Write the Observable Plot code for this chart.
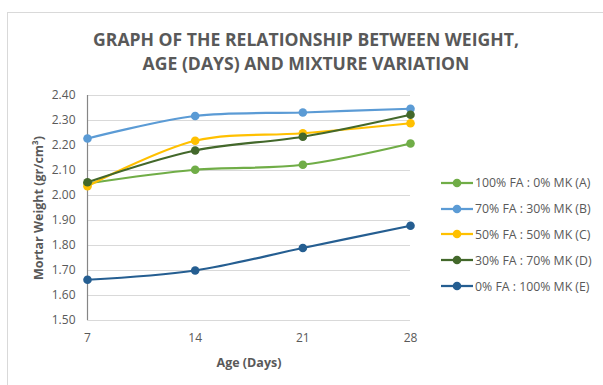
<!DOCTYPE html>
<html>
<head>
<meta charset="utf-8">
<script src="https://cdn.jsdelivr.net/npm/d3@7"></script>
<script src="https://cdn.jsdelivr.net/npm/@observablehq/plot@0.6"></script>
<style>
  html, body { margin: 0; padding: 0; background: #fff; }
  #wrap { position: relative; width: 603px; height: 385px; overflow: hidden; font-family: "Open Sans", sans-serif; color: #595959; }
  #frame { position: absolute; left: 7px; top: 12px; width: 700px; height: 500px; border-top: 1px solid #d9d9d9; border-left: 1px solid #d9d9d9; }
  #title { position: absolute; left: 0; width: 612px; top: 28px; text-align: center; font-weight: 700; font-size: 17.6px; line-height: 23.5px; color: #595959; }
  #chart { position: absolute; left: 0; top: 0; }
  #legend { position: absolute; left: 441px; top: 170px; font-size: 12.3px; color: #595959; }
  .item { display: flex; align-items: center; height: 25.8px; white-space: nowrap; }
  .item svg { margin-right: 2px; }
</style>
</head>
<body>
<div id="wrap">
  <div id="frame"></div>
  <div id="title">GRAPH OF THE RELATIONSHIP BETWEEN WEIGHT,<br>AGE (DAYS) AND MIXTURE VARIATION</div>
  <div id="chart"></div>
  <div id="legend"></div>
</div>
<script>
const ages = [7, 14, 21, 28];
const seriesNames = [
  "100% FA : 0% MK (A)",
  "70% FA : 30% MK (B)",
  "50% FA : 50% MK (C)",
  "30% FA : 70% MK (D)",
  "0% FA : 100% MK (E)"
];
const seriesColors = ["#70AD47", "#5B9BD5", "#FFC000", "#43682B", "#255E91"];
const valuesA = [2.048, 2.103, 2.123, 2.208];
const valuesB = [2.228, 2.318, 2.332, 2.347];
const valuesC = [2.037, 2.219, 2.249, 2.289];
const valuesD = [2.053, 2.180, 2.235, 2.323];
const valuesE = [1.663, 1.700, 1.790, 1.879];
const yTicks = [1.5, 1.6, 1.7, 1.8, 1.9, 2.0, 2.1, 2.2, 2.3, 2.4];
const xTicks = [7, 14, 21, 28];

const allValues = [valuesA, valuesB, valuesC, valuesD, valuesE];
const data = [];
seriesNames.forEach((s, i) => ages.forEach((a, j) => data.push({series: s, age: a, value: allValues[i][j]})));

const plot = Plot.plot({
  width: 430,
  height: 385,
  marginLeft: 87,
  marginRight: 20,
  marginTop: 95,
  marginBottom: 65,
  style: {fontFamily: "Open Sans, sans-serif", fontSize: "12px", color: "#595959", background: "transparent"},
  x: {domain: [7, 28], ticks: xTicks},
  y: {domain: [1.5, 2.4], ticks: yTicks},
  color: {domain: seriesNames, range: seriesColors},
  marks: [
    Plot.gridY(yTicks, {stroke: "#d9d9d9", strokeOpacity: 1, strokeWidth: 1}),
    Plot.ruleX([7], {stroke: "#868686", strokeWidth: 1.2}),
    Plot.axisY({ticks: yTicks, tickSize: 0, tickPadding: 12, tickFormat: d => d.toFixed(2), label: null, fill: "#595959"}),
    Plot.axisX({ticks: xTicks, tickSize: 0, tickPadding: 13, label: null, fill: "#595959"}),
    Plot.line(data, {x: "age", y: "value", z: "series", stroke: "series", strokeWidth: 2.25, curve: "catmull-rom"}),
    Plot.dot(data, {x: "age", y: "value", fill: "series", r: 4.3}),
    Plot.text(["Mortar Weight (gr/cm³)"], {frameAnchor: "left", dx: -49, rotate: -90, textAnchor: "middle", lineAnchor: "middle", text: d => d, fontWeight: "bold", fontSize: 12.5, fill: "#595959"}),
    Plot.text(["Age (Days)"], {frameAnchor: "bottom", dy: 42, textAnchor: "middle", lineAnchor: "middle", text: d => d, fontWeight: "bold", fontSize: 12.5, fill: "#595959"})
  ]
});
document.getElementById("chart").appendChild(plot);

const legend = document.getElementById("legend");
seriesNames.forEach((s, i) => {
  const div = document.createElement("div");
  div.className = "item";
  div.innerHTML = `<svg width="32" height="10"><line x1="0" y1="5" x2="32" y2="5" stroke="${seriesColors[i]}" stroke-width="2.25"/><circle cx="16" cy="5" r="4.3" fill="${seriesColors[i]}"/></svg><span>${s}</span>`;
  legend.appendChild(div);
});
</script>
</body>
</html>
